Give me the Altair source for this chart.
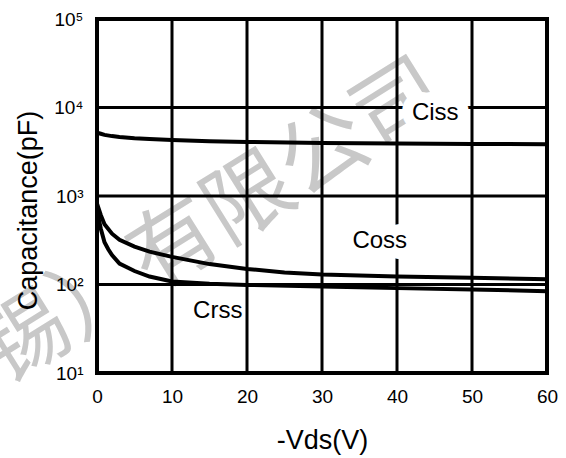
import altair as alt
import pandas as pd

# ---- data ----
vds_ciss = [0, 0.5, 1, 2, 3, 5, 7, 10, 15, 20, 30, 40, 50, 60]
ciss = [5200, 5050, 4900, 4750, 4650, 4500, 4400, 4300, 4150, 4080, 3980, 3920, 3870, 3850]

vds_coss = [0, 0.5, 1, 2, 3, 5, 7, 10, 15, 20, 25, 30, 40, 50, 60]
coss = [820, 610, 480, 375, 320, 268, 235, 205, 170, 150, 137, 130, 123, 119, 115]

vds_crss = [0, 0.5, 1, 1.5, 2, 3, 5, 7, 10, 15, 20, 30, 40, 50, 60]
crss = [680, 430, 300, 250, 215, 172, 142, 123, 108, 102, 99, 95, 91, 88, 84]

series_names = ["Ciss", "Coss", "Crss"]
label_x = [45.1, 37.7, 16.1]
label_y = [8670, 310, 50]
label_box = [True, True, False]

x_ticks = [0, 10, 20, 30, 40, 50, 60]
y_ticks = [10, 100, 1000, 10000, 100000]
y_tick_labels = ["10¹", "10²", "10³", "10⁴", "10⁵"]
x_grid = [10, 20, 30, 40, 50]
y_grid = [100, 1000, 10000]

watermark_text = ["无锡）有限公司"]
watermark_x = [10.5]
watermark_y = [262]

# ---- tables ----
rows = []
for name, xs, ys in [("Ciss", vds_ciss, ciss), ("Coss", vds_coss, coss), ("Crss", vds_crss, crss)]:
    for a, b in zip(xs, ys):
        rows.append({"series": name, "x": a, "y": b})
curves = pd.DataFrame(rows)
labels = pd.DataFrame({"text": series_names, "x": label_x, "y": label_y, "box": label_box})
boxes = labels[labels["box"]]
vgrid = pd.DataFrame({"x": x_grid})
hgrid = pd.DataFrame({"y": y_grid})
wm = pd.DataFrame({"text": watermark_text, "x": watermark_x, "y": watermark_y})

FONT = "Liberation Sans"
label_expr = " : ".join(
    f"datum.value == {v} ? '{t}'" for v, t in zip(y_ticks, y_tick_labels)
) + " : datum.label"

def X():
    return alt.X(
        "x:Q",
        scale=alt.Scale(domain=[0, 60], nice=False, zero=False),
        axis=alt.Axis(
            values=x_ticks, title="-Vds(V)", grid=False, domain=False, ticks=False,
            labelFont=FONT, labelFontSize=19, labelColor="black", labelPadding=14,
            labelFlush=False, labelOverlap=False, zindex=1,
            titleFont=FONT, titleFontSize=27, titleFontWeight="normal", titleColor="black",
            titleBaseline="alphabetic", titleY=75,
        ),
    )

def Y():
    return alt.Y(
        "y:Q",
        scale=alt.Scale(type="log", domain=[10, 100000], nice=False),
        axis=alt.Axis(
            values=y_ticks, title="Capacitance(pF)", grid=False, domain=False, ticks=False,
            labelExpr=label_expr, zindex=1,
            labelFont=FONT, labelFontSize=19, labelColor="black", labelPadding=14,
            labelFlush=False, labelOverlap=False,
            titleFont=FONT, titleFontSize=27, titleFontWeight="normal", titleColor="black",
            titleBaseline="alphabetic", titleX=-61, titleY=191,
        ),
    )

watermark = alt.Chart(wm).mark_text(
    font="Noto Sans CJK SC", fontSize=88, color="#c8c8c8", angle=328,
    align="center", baseline="middle",
).encode(x=X(), y=Y(), text="text:N")

vrules = alt.Chart(vgrid).mark_rule(color="black", strokeWidth=3).encode(x=X())
hrules = alt.Chart(hgrid).mark_rule(color="black", strokeWidth=3).encode(y=Y())

lines = alt.Chart(curves).mark_line(color="black", strokeWidth=4, clip=True).encode(
    x=X(), y=Y(), detail="series:N"
)

bg = alt.Chart(boxes).mark_text(
    font=FONT, fontSize=24, fill="white", stroke="white", strokeWidth=22,
    strokeJoin="round", align="center", baseline="middle",
).encode(x=X(), y=Y(), text="text:N")

txt = alt.Chart(labels).mark_text(
    font=FONT, fontSize=24, color="black", align="center", baseline="middle",
).encode(x=X(), y=Y(), text="text:N")

chart = alt.layer(watermark, vrules, hrules, lines, bg, txt).properties(
    width=450, height=354,
    autosize=alt.AutoSizeParams(type="none"),
    padding={"left": 97, "top": 19, "right": 19, "bottom": 85},
    background="white",
).configure_view(stroke="black", strokeWidth=4)

chart.save("out.html", embed_options={"renderer": "svg", "actions": False})
